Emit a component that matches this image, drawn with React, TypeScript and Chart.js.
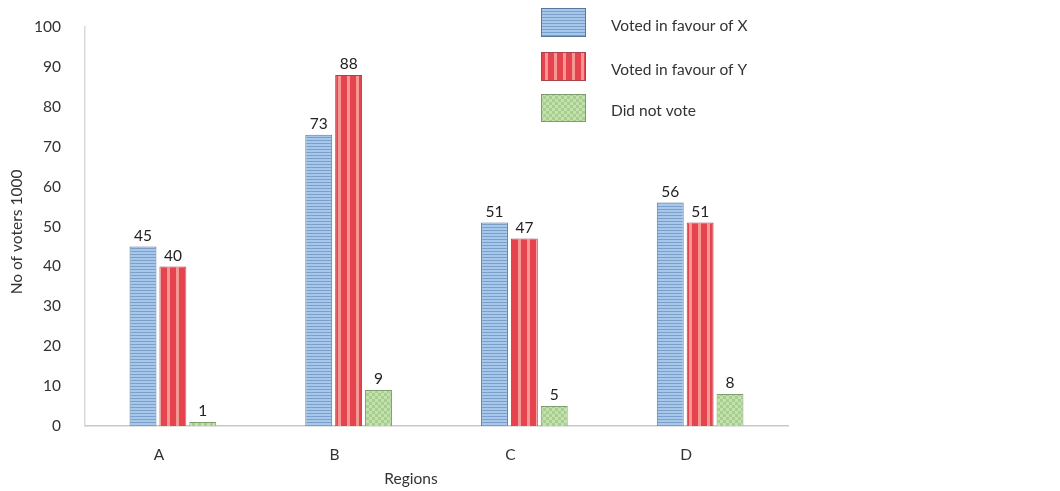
import React, { useEffect, useRef } from "react";
import { Chart, registerables } from "chart.js";

Chart.register(...registerables);

const categories = ["A", "B", "C", "D"];
const votedX = [45, 73, 51, 56];
const votedY = [40, 88, 47, 51];
const didNotVote = [1, 9, 5, 8];
const seriesNames = ["Voted in favour of X", "Voted in favour of Y", "Did not vote"];
const yMin = 0;
const yMax = 100;
const yStep = 10;
const yTitle = "No of voters 1000";
const xTitle = "Regions";

const FONT = "Lato, 'Open Sans', sans-serif";

function makePattern(w: number, h: number, draw: (ctx: CanvasRenderingContext2D) => void) {
  const c = document.createElement("canvas");
  c.width = w;
  c.height = h;
  const ctx = c.getContext("2d")!;
  draw(ctx);
  return ctx.createPattern(c, "repeat")!;
}

export default function App() {
  const ref = useRef<HTMLCanvasElement | null>(null);

  useEffect(() => {
    if (!ref.current) return;

    const bluePat = makePattern(4, 3, (ctx) => {
      ctx.fillStyle = "#A7C8EA";
      ctx.fillRect(0, 0, 4, 3);
      ctx.fillStyle = "#7A9FCB";
      ctx.fillRect(0, 2, 4, 1);
    });
    const redPat = makePattern(9, 2, (ctx) => {
      ctx.fillStyle = "#E5434E";
      ctx.fillRect(0, 0, 9, 2);
      ctx.fillStyle = "#F59894";
      ctx.fillRect(5, 0, 3, 2);
    });
    const greenPat = makePattern(6, 6, (ctx) => {
      ctx.fillStyle = "#A6CF8C";
      ctx.fillRect(0, 0, 6, 6);
      ctx.fillStyle = "#C3E1AE";
      ctx.fillRect(0, 0, 3, 3);
      ctx.fillRect(3, 3, 3, 3);
    });

    const fills = [bluePat, redPat, greenPat];
    const borders = ["#56789C", "#A8454C", "#7E9E6C"];
    const values = [votedX, votedY, didNotVote];

    const overlay = {
      id: "overlay",
      afterDatasetsDraw(chart: any) {
        const ctx = chart.ctx as CanvasRenderingContext2D;
        ctx.save();
        ctx.font = `15.5px ${FONT}`;
        ctx.fillStyle = "#222";
        ctx.textAlign = "center";
        ctx.textBaseline = "bottom";
        chart.data.datasets.forEach((ds: any, i: number) => {
          const meta = chart.getDatasetMeta(i);
          meta.data.forEach((el: any, j: number) => {
            ctx.fillText(String(ds.data[j]), el.x, el.y - 3);
          });
        });
        ctx.restore();
      },
      afterDraw(chart: any) {
        const ctx = chart.ctx as CanvasRenderingContext2D;
        ctx.save();
        // legend
        const boxX = 541;
        const boxW = 45;
        const tops = [8, 52, 94];
        const hs = [29, 29, 28];
        ctx.font = `15.5px ${FONT}`;
        ctx.textAlign = "left";
        ctx.textBaseline = "middle";
        seriesNames.forEach((name, i) => {
          ctx.fillStyle = fills[i];
          ctx.fillRect(boxX, tops[i], boxW, hs[i]);
          ctx.strokeStyle = borders[i];
          ctx.lineWidth = 1;
          ctx.strokeRect(boxX + 0.5, tops[i] + 0.5, boxW - 1, hs[i] - 1);
          ctx.fillStyle = "#333";
          ctx.fillText(name, 611, tops[i] + hs[i] / 2 + 3);
        });
        // axis titles
        ctx.font = `15.5px ${FONT}`;
        ctx.fillStyle = "#333";
        ctx.textAlign = "center";
        ctx.textBaseline = "middle";
        ctx.fillText(xTitle, 411, 479);
        ctx.translate(17, 232);
        ctx.rotate(-Math.PI / 2);
        ctx.fillText(yTitle, 0, 0);
        ctx.restore();
      },
    };

    const chart = new Chart(ref.current, {
      type: "bar",
      data: {
        labels: categories,
        datasets: seriesNames.map((name, i) => ({
          label: name,
          data: values[i],
          backgroundColor: fills[i],
          borderColor: borders[i],
          borderWidth: 1,
          categoryPercentage: 0.51,
          barPercentage: 0.9,
        })),
      },
      options: {
        responsive: true,
        maintainAspectRatio: false,
        animation: false,
        layout: { padding: { top: 27, right: 272, left: 0, bottom: 0 } },
        plugins: {
          legend: { display: false },
          tooltip: { enabled: false },
        },
        scales: {
          x: {
            grid: { display: false },
            border: { display: true, color: "#C8C8C8", width: 1.5 },
            ticks: {
              color: "#333",
              font: { family: FONT, size: 15.5 },
              padding: 12,
              labelOffset: -14,
            },
            afterFit: (scale: any) => {
              scale.height = 65;
            },
          },
          y: {
            min: yMin,
            max: yMax,
            grid: { display: false },
            border: { display: true, color: "#D8D8D8", width: 1.5 },
            ticks: {
              stepSize: yStep,
              color: "#333",
              font: { family: FONT, size: 15.5 },
              padding: 16,
            },
            afterFit: (scale: any) => {
              scale.width = 85;
            },
          },
        },
      },
      plugins: [overlay],
    });

    return () => chart.destroy();
  }, []);

  return (
    <div style={{ position: "absolute", left: 0, top: 0, width: 1060, height: 491, background: "#fff" }}>
      <canvas ref={ref} />
    </div>
  );
}
